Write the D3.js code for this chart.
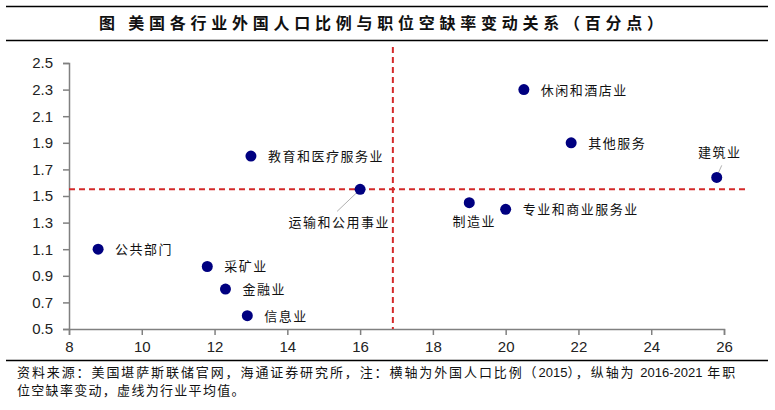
<!DOCTYPE html>
<html>
<head>
<meta charset="utf-8" />
<title>美国各行业外国人口比例与职位空缺率变动关系</title>
<style type="text/css">
body{
	margin:0;
	background:#fff;
}
text{
	font-family:"Noto Sans CJK SC","Liberation Sans",sans-serif;
}
.tick text{
	font-family:"Liberation Sans",Arial,sans-serif;
	font-size:15px;
	fill:#222;
}
.domain,.tick line{
	stroke:#808080;
	stroke-width:1.5;
}
.num{
	font-family:"Liberation Sans",Arial,sans-serif;
	letter-spacing:0;
}
</style>
<script src="https://cdn.jsdelivr.net/npm/d3@7"></script>
</head>
<body>
<script>
	//数据
	var sectors = ["公共部门","采矿业","金融业","信息业","教育和医疗服务业","运输和公用事业","制造业","专业和商业服务业","休闲和酒店业","其他服务","建筑业"];
	var foreignShare = [8.8, 11.8, 12.3, 12.9, 13.0, 16.0, 19.0, 20.0, 20.5, 21.8, 25.8];
	var vacancyChange = [1.10, 0.97, 0.80, 0.60, 1.80, 1.55, 1.45, 1.40, 2.30, 1.90, 1.64];
	var labelSide = ["right","right","right","right","right","belowLeft","below","right","right","right","above"];
	var xTicks = [8, 10, 12, 14, 16, 18, 20, 22, 24, 26];
	var yTicks = [0.5, 0.7, 0.9, 1.1, 1.3, 1.5, 1.7, 1.9, 2.1, 2.3, 2.5];
	var avgShare = 16.9;
	var avgChange = 1.55;

	var width = 775;
	var height = 410;
	var axisLeftX = 69, axisRightX = 724, axisTopY = 63, axisBottomY = 329;
	var plotRight = 747, plotTop = 47;

	//画布
	var SVG = d3.select("body")
				.append("svg")
				.attr("width", width)
				.attr("height", height);

	//标题和横线
	SVG.append("line")
		.attr("x1", 6).attr("y1", 6.5).attr("x2", 768).attr("y2", 6.5)
		.attr("stroke", "#000").attr("stroke-width", 1.5);
	SVG.append("line")
		.attr("x1", 6).attr("y1", 40.5).attr("x2", 768).attr("y2", 40.5)
		.attr("stroke", "#000").attr("stroke-width", 1.5);
	SVG.append("text")
		.attr("x", 99)
		.attr("y", 29)
		.attr("font-size", 16)
		.attr("font-weight", "bold")
		.attr("fill", "#111")
		.attr("textLength", 564)
		.attr("lengthAdjust", "spacing")
		.text("图  美国各行业外国人口比例与职位空缺率变动关系（百分点）");

	var x = d3.scaleLinear().domain([8, 26]).range([axisLeftX, axisRightX]);
	var y = d3.scaleLinear().domain([0.5, 2.5]).range([axisBottomY, axisTopY]);

	//坐标轴
	SVG.append("g")
		.attr("transform", "translate(0," + axisBottomY + ")")
		.call(d3.axisBottom(x).tickValues(xTicks).tickSize(6).tickPadding(6).tickFormat(d3.format("d")));
	SVG.append("g")
		.attr("transform", "translate(" + axisLeftX + ",0)")
		.call(d3.axisLeft(y).tickValues(yTicks).tickSize(6).tickPadding(10).tickFormat(d3.format(".1f")));

	//平均线
	SVG.append("line")
		.attr("x1", x(avgShare)).attr("x2", x(avgShare))
		.attr("y1", plotTop).attr("y2", axisBottomY)
		.attr("stroke", "#d42a2a").attr("stroke-width", 2)
		.attr("stroke-dasharray", "6,4");
	SVG.append("line")
		.attr("x1", axisLeftX).attr("x2", plotRight)
		.attr("y1", y(avgChange)).attr("y2", y(avgChange))
		.attr("stroke", "#d42a2a").attr("stroke-width", 2)
		.attr("stroke-dasharray", "6,4");

	//引线和散点
	for( var i=0; i<sectors.length; i++ ){
		var cx = x(foreignShare[i]);
		var cy = y(vacancyChange[i]);
		var side = labelSide[i];
		var lx, ly, anchor = "start";
		if( side == "right" ){
			lx = cx + 17; ly = cy + 5;
		}else if( side == "belowLeft" ){
			lx = cx + 30; ly = cy + 38; anchor = "end";
			SVG.append("line")
				.attr("x1", cx - 23).attr("y1", cy + 22)
				.attr("x2", cx - 2).attr("y2", cy + 2)
				.attr("stroke", "#b0b0b0").attr("stroke-width", 1);
		}else if( side == "below" ){
			lx = cx + 5; ly = cy + 23; anchor = "middle";
		}else{
			lx = cx + 3; ly = cy - 20; anchor = "middle";
			SVG.append("line")
				.attr("x1", cx + 5).attr("y1", cy - 12)
				.attr("x2", cx + 1).attr("y2", cy - 3)
				.attr("stroke", "#b0b0b0").attr("stroke-width", 1);
		}
		SVG.append("circle")
			.attr("cx", cx)
			.attr("cy", cy)
			.attr("r", 5.5)
			.attr("fill", "#000080");
		SVG.append("text")
			.attr("x", lx)
			.attr("y", ly)
			.attr("text-anchor", anchor)
			.attr("font-size", 13)
			.attr("letter-spacing", "1.5px")
			.attr("fill", "#111")
			.text(sectors[i]);
	}

	//资料来源
	SVG.append("line")
		.attr("x1", 6).attr("y1", 360.5).attr("x2", 768).attr("y2", 360.5)
		.attr("stroke", "#000").attr("stroke-width", 1.5);
	var note = SVG.append("text")
		.attr("x", 17)
		.attr("y", 377)
		.attr("font-size", 13)
		.attr("letter-spacing", "1.9px")
		.attr("fill", "#111");
	note.append("tspan").text("资料来源：美国堪萨斯联储官网，海通证券研究所，注：横轴为外国人口比例（");
	note.append("tspan").attr("class", "num").text("2015");
	note.append("tspan").text("），纵轴为 ");
	note.append("tspan").attr("class", "num").text("2016-2021");
	note.append("tspan").text(" 年职");
	SVG.append("text")
		.attr("x", 17)
		.attr("y", 395)
		.attr("font-size", 13)
		.attr("letter-spacing", "1.3px")
		.attr("fill", "#111")
		.text("位空缺率变动，虚线为行业平均值。");
</script>
</body>
</html>
